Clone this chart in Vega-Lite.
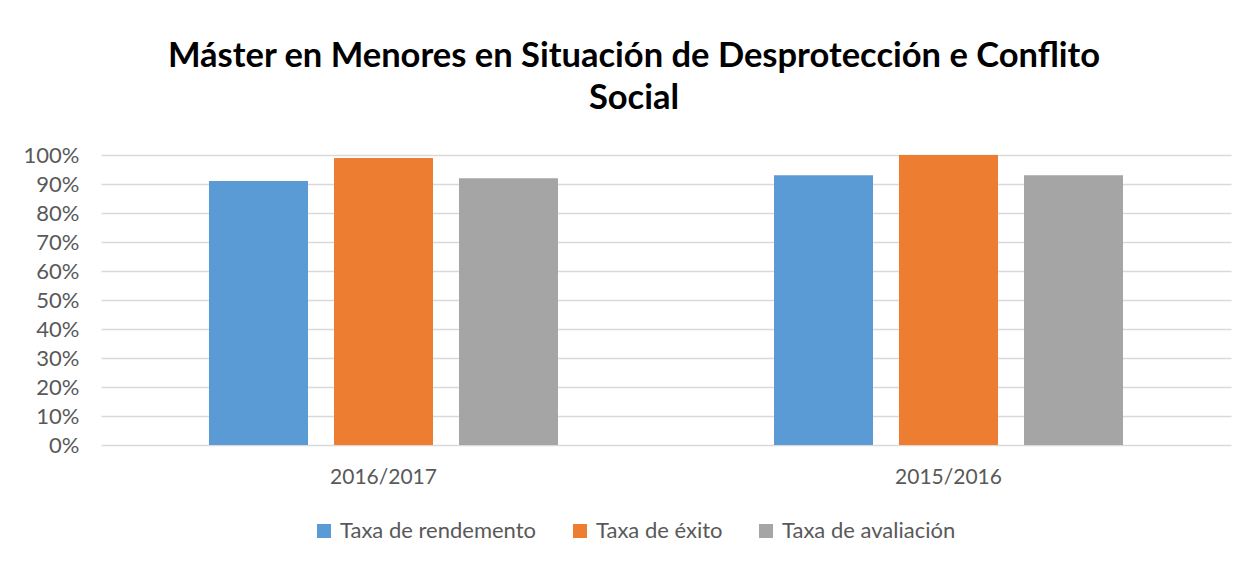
{
  "$schema": "https://vega.github.io/schema/vega-lite/v6.json",
  "autosize": "none",
  "width": 1130,
  "height": 290,
  "padding": {"left": 101, "top": 155, "right": 17, "bottom": 118},
  "background": "white",
  "title": {
    "text": ["Máster en Menores en Situación de Desprotección e Conflito", "Social"],
    "font": "Lato",
    "fontSize": 34.5,
    "fontWeight": "bold",
    "color": "#000000",
    "anchor": "middle",
    "dx": -32,
    "lineHeight": 42,
    "offset": 28
  },
  "data": {
    "values": [
      {"curso": "2016/2017", "serie": "Taxa de rendemento", "valor": 0.91},
      {"curso": "2016/2017", "serie": "Taxa de éxito", "valor": 0.99},
      {"curso": "2016/2017", "serie": "Taxa de avaliación", "valor": 0.92},
      {"curso": "2015/2016", "serie": "Taxa de rendemento", "valor": 0.93},
      {"curso": "2015/2016", "serie": "Taxa de éxito", "valor": 1.0},
      {"curso": "2015/2016", "serie": "Taxa de avaliación", "valor": 0.93}
    ]
  },
  "mark": {"type": "bar"},
  "encoding": {
    "x": {
      "field": "curso",
      "type": "nominal",
      "sort": ["2016/2017", "2015/2016"],
      "scale": {"paddingInner": 0, "paddingOuter": 0},
      "axis": {
        "title": null,
        "labelAngle": 0,
        "ticks": false,
        "domain": false,
        "labelFont": "Lato",
        "labelFontSize": 21,
        "labelColor": "#595959",
        "labelPadding": 21
      }
    },
    "xOffset": {
      "field": "serie",
      "type": "nominal",
      "sort": ["Taxa de rendemento", "Taxa de éxito", "Taxa de avaliación"],
      "scale": {"paddingInner": 0.208, "paddingOuter": 0.864}
    },
    "y": {
      "field": "valor",
      "type": "quantitative",
      "scale": {"domain": [0, 1], "nice": false},
      "axis": {
        "title": null,
        "format": ".0%",
        "values": [0, 0.1, 0.2, 0.3, 0.4, 0.5, 0.6, 0.7, 0.8, 0.9, 1.0],
        "ticks": false,
        "domain": false,
        "grid": true,
        "gridColor": "#D9D9D9",
        "gridWidth": 1.5,
        "labelFont": "Lato",
        "labelFontSize": 22,
        "labelColor": "#595959",
        "labelPadding": 22
      }
    },
    "color": {
      "field": "serie",
      "type": "nominal",
      "sort": ["Taxa de rendemento", "Taxa de éxito", "Taxa de avaliación"],
      "scale": {
        "domain": ["Taxa de rendemento", "Taxa de éxito", "Taxa de avaliación"],
        "range": ["#5B9BD5", "#ED7D31", "#A5A5A5"]
      },
      "legend": {
        "title": null,
        "orient": "none",
        "direction": "horizontal",
        "legendX": 212,
        "legendY": 365,
        "symbolType": "square",
        "symbolSize": 196,
        "symbolStrokeWidth": 0,
        "symbolOpacity": 1,
        "labelFont": "Lato",
        "labelFontSize": 22,
        "labelColor": "#595959",
        "labelOffset": 5,
        "labelLimit": 400,
        "columnPadding": 32
      }
    }
  },
  "config": {
    "view": {"stroke": null}
  }
}
